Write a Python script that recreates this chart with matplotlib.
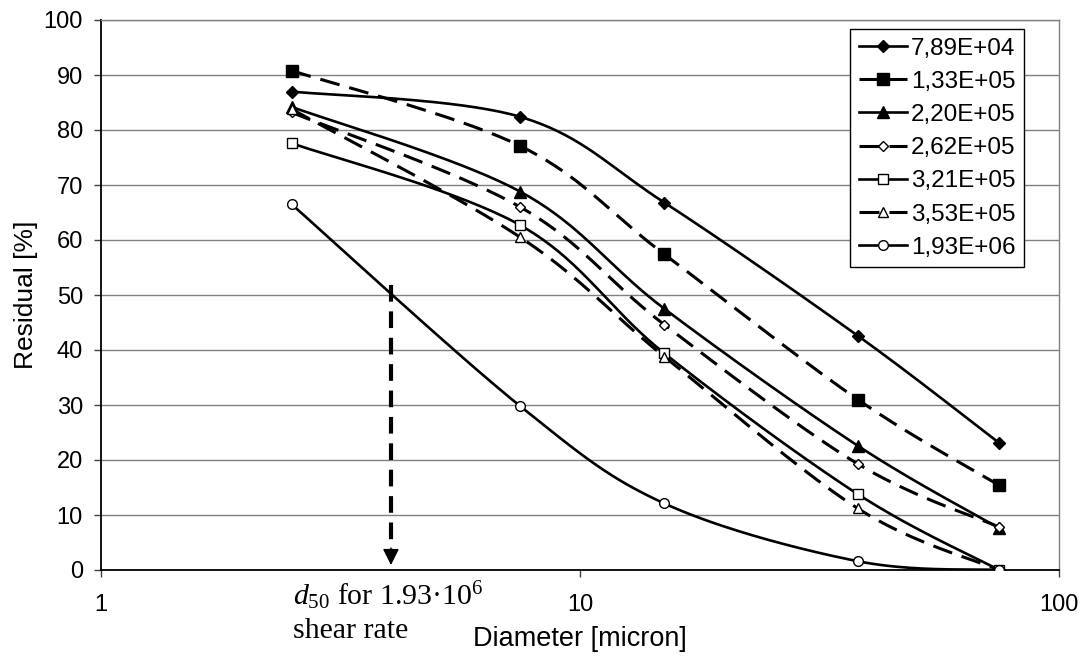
import numpy as np
import matplotlib
matplotlib.use("Agg")
import matplotlib.pyplot as plt

# ======================
# DATA
# ======================
diameter = [2.5, 7.5, 15, 38, 75]

shear_labels = ["7,89E+04", "1,33E+05", "2,20E+05", "2,62E+05",
                "3,21E+05", "3,53E+05", "1,93E+06"]

res_789e4 = [87.0, 82.4, 66.8, 42.6, 23.1]
res_133e5 = [90.8, 77.1, 57.4, 31.0, 15.4]
res_220e5 = [84.2, 68.8, 47.5, 22.6, 7.6]
res_262e5 = [83.2, 66.0, 44.6, 19.3, 7.8]
res_321e5 = [77.6, 62.7, 39.4, 13.8, 0.0]
res_353e5 = [83.8, 60.5, 38.8, 11.2, 0.0]
res_193e6 = [66.5, 29.8, 12.1, 1.6, 0.0]

residuals = [res_789e4, res_133e5, res_220e5, res_262e5,
             res_321e5, res_353e5, res_193e6]

d50_x = 4.03      # d50 for 1.93e6
d50_y = 51.8

# ======================
# STYLE
# ======================
plt.rcParams["font.family"] = ["Liberation Sans", "DejaVu Sans"]
plt.rcParams["mathtext.fontset"] = "custom"
plt.rcParams["mathtext.rm"] = "Liberation Serif"
plt.rcParams["mathtext.it"] = "Liberation Serif:italic"
plt.rcParams["lines.scale_dashes"] = False

DASH = (0, (14.4, 7.2))
# marker, filled, dashed, size
styles = [
    ("D", True, False, 6.3),
    ("s", True, True, 8.0),
    ("^", True, False, 8.5),
    ("D", False, True, 5.2),
    ("s", False, False, 7.2),
    ("^", False, True, 7.5),
    ("o", False, False, 7.0),
]

XSCALE = 479.0   # px per decade
YSCALE = 5.5     # px per percent


def smooth(xs, ys, n=40):
    # excel-like bezier smoothing, done in screen-ish units
    P = np.column_stack([np.log10(xs) * XSCALE, np.asarray(ys) * YSCALE])
    out = []
    t = np.linspace(0, 1, n)[:, None]
    for i in range(len(P) - 1):
        p0 = P[i - 1] if i > 0 else P[i]
        p3 = P[i + 2] if i + 2 < len(P) else P[i + 1]
        p1, p2 = P[i], P[i + 1]
        c1 = p1 + (p2 - p0) / 6
        c2 = p2 - (p3 - p1) / 6
        seg = ((1 - t) ** 3 * p1 + 3 * (1 - t) ** 2 * t * c1
               + 3 * (1 - t) * t ** 2 * c2 + t ** 3 * p2)
        out.append(seg if i == 0 else seg[1:])
    out = np.vstack(out)
    return 10 ** (out[:, 0] / XSCALE), out[:, 1] / YSCALE


# ======================
# PLOT
# ======================
fig = plt.figure(figsize=(10.84, 6.57), dpi=100)
ax = fig.add_axes([101 / 1084, 1 - 570 / 657, 958 / 1084, 550 / 657])

ax.set_xscale("log")
ax.set_xlim(1, 100)
ax.set_ylim(0, 100)

for res, lab, (mk, filled, dashed, ms) in zip(residuals, shear_labels, styles):
    ls = DASH if dashed else "-"
    lw = 2.2 if dashed else 1.9
    sx, sy = smooth(diameter, res)
    ax.plot(sx, sy, color="black", lw=lw, linestyle=ls, zorder=3)
    ax.plot(diameter, res, linestyle="none", marker=mk, ms=ms,
            mfc="black" if filled else "white", mec="black",
            mew=1.0, zorder=4)
    # legend proxy
    ax.plot([], [], color="black", lw=lw, linestyle=ls, marker=mk, ms=ms,
            mfc="black" if filled else "white", mec="black", mew=1.0,
            label=lab)

# gridlines
ax.set_yticks(np.arange(0, 101, 10))
ax.yaxis.grid(True, color="#808080", lw=1.0)
ax.set_axisbelow(True)

ax.set_xticks([1, 10, 100])
ax.set_xticklabels(["1", "10", "100"])
ax.xaxis.set_minor_locator(matplotlib.ticker.NullLocator())

ax.tick_params(axis="both", labelsize=17, length=5, width=1.0,
               color="#404040")
ax.tick_params(axis="x", pad=12)
ax.tick_params(axis="y", pad=8)

for side in ["top", "right"]:
    ax.spines[side].set_color("#808080")
    ax.spines[side].set_linewidth(1.0)
for side in ["left", "bottom"]:
    ax.spines[side].set_color("black")
    ax.spines[side].set_linewidth(1.3)

ax.set_ylabel("Residual [%]", fontsize=19)
ax.yaxis.set_label_coords(-0.066, 0.5)
ax.set_xlabel("Diameter [micron]", fontsize=19.5)
ax.xaxis.set_label_coords(0.5, -0.102)

# d50 arrow
ax.plot([d50_x, d50_x], [d50_y, 3.5], color="black", lw=3.0,
        linestyle=(0, (12, 7)), zorder=5)
ax.annotate("", xy=(d50_x, 0.9), xytext=(d50_x, 4.0),
            arrowprops=dict(arrowstyle="-|>,head_length=1.0,head_width=0.5",
                            color="black", lw=1, shrinkA=0, shrinkB=0),
            zorder=5)

ax.text(0.2004, -0.0636, r"$d_{50}$ for 1.93·$10^{6}$", transform=ax.transAxes,
        family="Liberation Serif", fontsize=21.5, ha="left", va="baseline")
ax.text(0.2004, -0.1236, "shear rate", transform=ax.transAxes,
        family="Liberation Serif", fontsize=21.5, ha="left", va="baseline")

leg = ax.legend(loc="upper right", bbox_to_anchor=(0.9635, 0.9836),
                borderaxespad=0, fontsize=17.5, frameon=True, fancybox=False,
                edgecolor="black", framealpha=1, numpoints=1,
                handlelength=2.0, handletextpad=0.15, labelspacing=0.46,
                borderpad=0.35)
leg.get_frame().set_linewidth(1.0)

fig.savefig("out.png", dpi=100)
